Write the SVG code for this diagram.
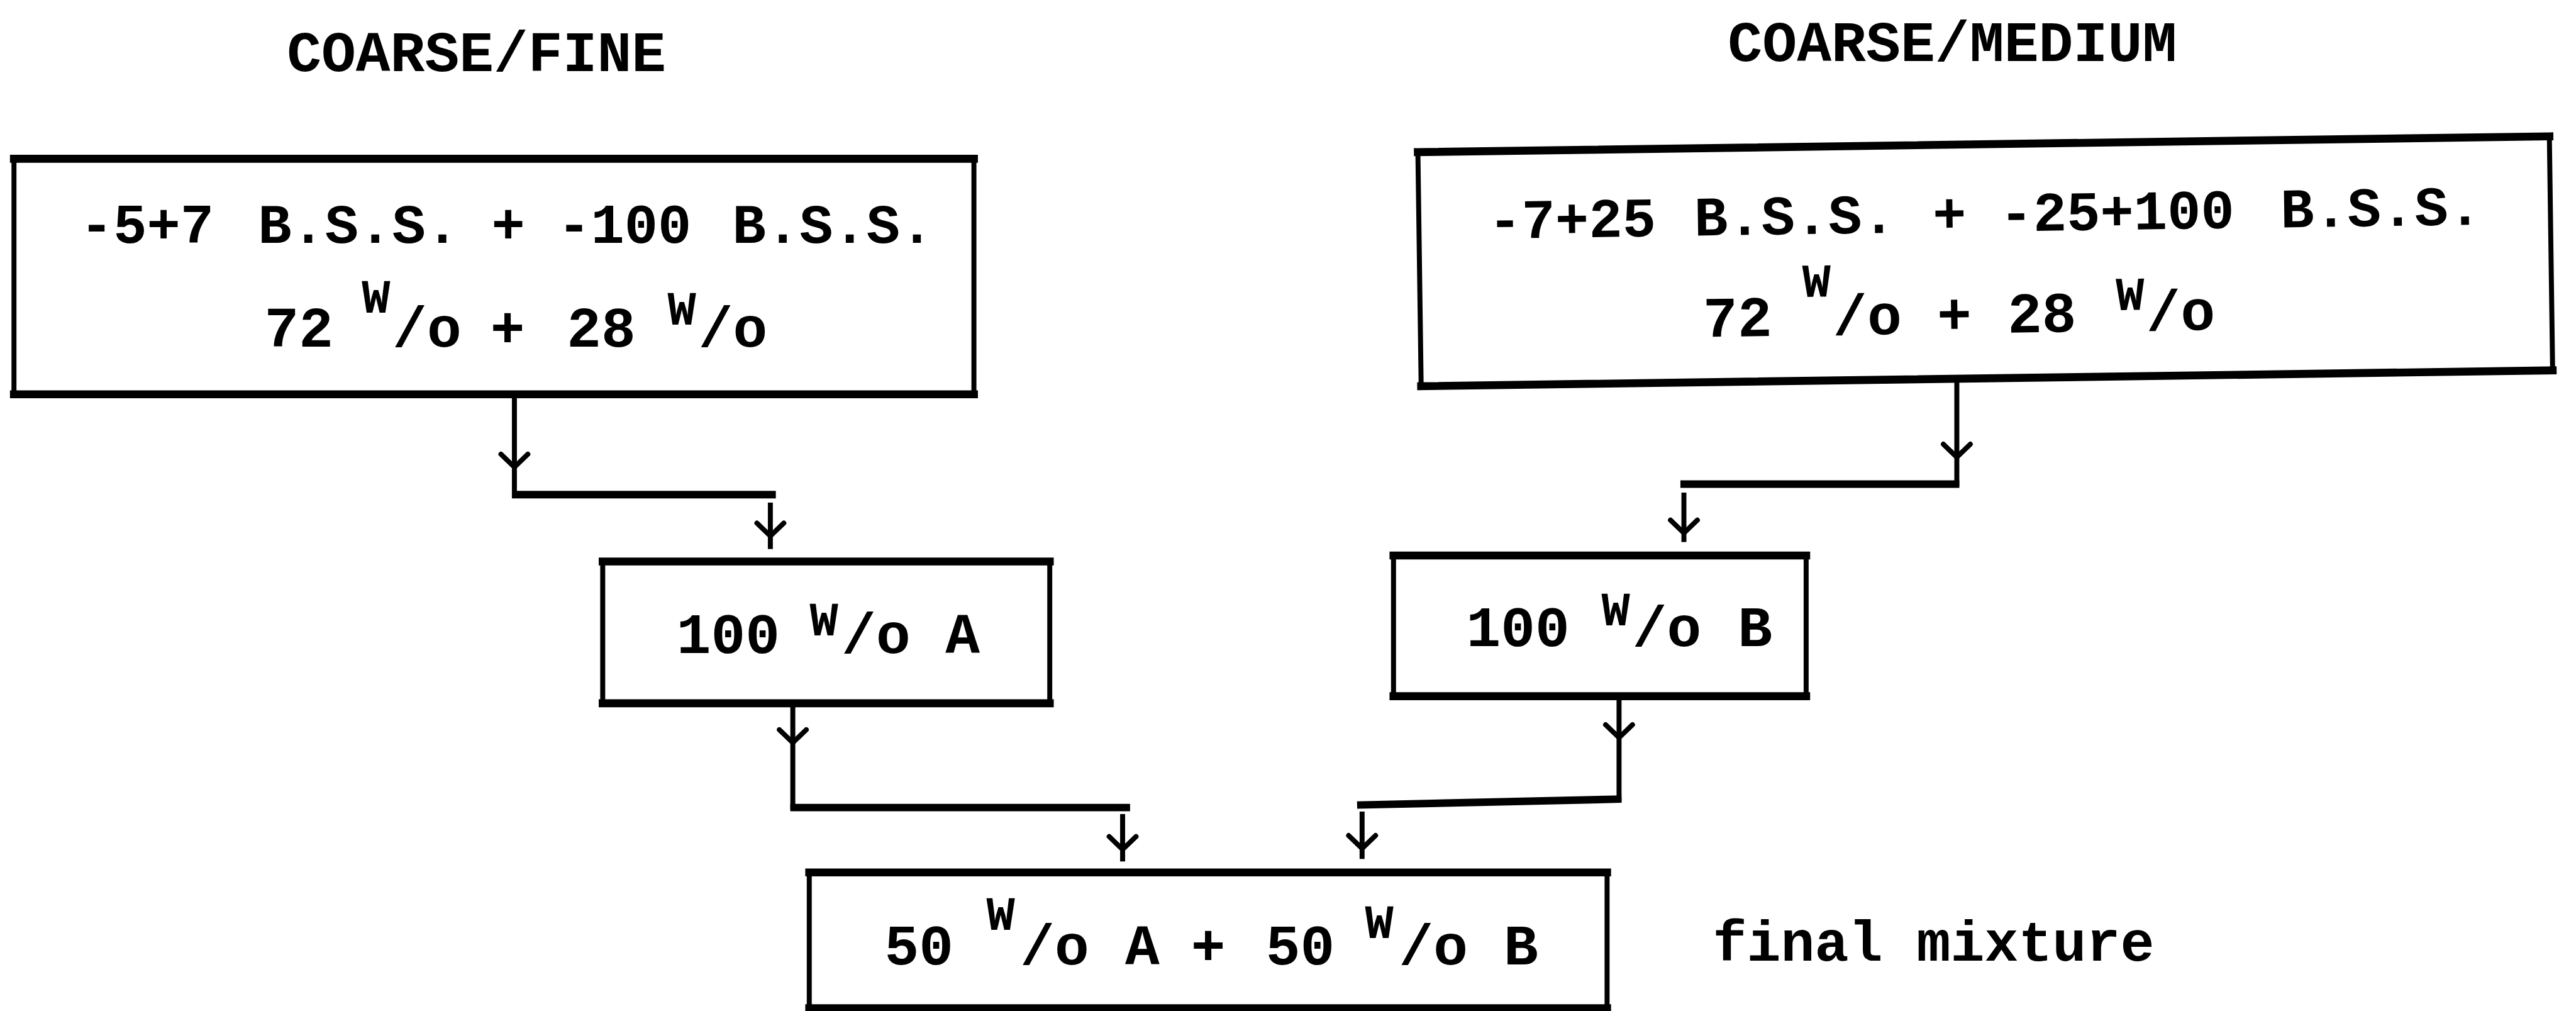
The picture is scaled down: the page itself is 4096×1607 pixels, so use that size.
<svg xmlns="http://www.w3.org/2000/svg" xmlns:xlink="http://www.w3.org/1999/xlink" width="4096" height="1607" viewBox="0 0 4096 1607">
  <style>
    .t { font-family: "Liberation Mono", "DejaVu Sans Mono", monospace; font-weight: bold; fill: #000; }
    .body { font-size: 112px; }
    .big { font-size: 115px; }
    .sup { font-size: 95px; }
    .box { fill: #fff; stroke: #000; stroke-width: 10; }
    .rule { fill: none; stroke: #000; stroke-width: 16; stroke-linecap: square; }
    .lv { fill: none; stroke: #000; stroke-width: 10; stroke-linecap: square; }
    .lh { fill: none; stroke: #000; stroke-width: 15; stroke-linecap: butt; }
    .head { fill: none; stroke: #000; stroke-width: 10; stroke-linecap: round; stroke-linejoin: miter; }
  </style>
  <defs>
    <!-- open V arrowhead, apex at the origin, pointing down -->
    <path id="vhead" class="head" d="M-27,-26 L0,0 L27,-26"/>
  </defs>
  <rect width="4096" height="1607" fill="#fff"/>
  <!-- drawing laid out on a 5163 x 2025 grid -->
  <g transform="scale(0.793337)">
    <g id="title-coarse-fine">
      <text class="t big" x="575" y="142" textLength="760" lengthAdjust="spacingAndGlyphs">COARSE/FINE</text>
    </g>
    <g id="title-coarse-medium">
      <text class="t big" x="3463" y="122" textLength="900" lengthAdjust="spacingAndGlyphs">COARSE/MEDIUM</text>
    </g>

    <g id="node-coarse-fine">
      <rect class="box" x="28" y="318" width="1924" height="472"/>
      <path class="rule" d="M28,318 H1952 M28,790 H1952"/>
      <text class="t body" y="487"><tspan x="160">-5+7</tspan><tspan x="517">B.S.S.</tspan><tspan x="985">+</tspan><tspan x="1117">-100</tspan><tspan x="1468">B.S.S.</tspan></text>
      <text class="t big" y="694"><tspan x="530">72</tspan><tspan class="sup" x="725" y="627">W</tspan><tspan x="787" y="694">/o</tspan><tspan x="983">+</tspan><tspan x="1136">28</tspan><tspan class="sup" x="1338" y="650">W</tspan><tspan x="1400" y="694">/o</tspan></text>
    </g>

    <g id="node-coarse-medium" transform="rotate(-0.8 3979 523)">
      <rect class="box" x="2845" y="289" width="2268" height="469"/>
      <path class="rule" d="M2845,289 H5113 M2845,758 H5113"/>
      <text class="t body" y="464"><tspan x="2984">-7+25</tspan><tspan x="3397">B.S.S.</tspan><tspan x="3875">+</tspan><tspan x="4009">-25+100</tspan><tspan x="4572">B.S.S.</tspan></text>
      <text class="t big" y="667"><tspan x="3412">72</tspan><tspan class="sup" x="3612" y="590">W</tspan><tspan x="3672" y="667">/o</tspan><tspan x="3881">+</tspan><tspan x="4022">28</tspan><tspan class="sup" x="4240" y="625">W</tspan><tspan x="4300" y="667">/o</tspan></text>
    </g>

    <g id="node-a">
      <rect class="box" x="1208" y="1125" width="896" height="284"/>
      <path class="rule" d="M1208,1125 H2104 M1208,1409 H2104"/>
      <text class="t big" y="1309"><tspan x="1356">100</tspan><tspan class="sup" x="1623" y="1273">W</tspan><tspan x="1687" y="1309">/o</tspan><tspan x="1895">A</tspan></text>
    </g>

    <g id="node-b">
      <rect class="box" x="2793" y="1113" width="827" height="282"/>
      <path class="rule" d="M2793,1113 H3620 M2793,1395 H3620"/>
      <text class="t big" y="1294"><tspan x="2939">100</tspan><tspan class="sup" x="3210" y="1253">W</tspan><tspan x="3272" y="1294">/o</tspan><tspan x="3483">B</tspan></text>
    </g>

    <g id="node-final">
      <rect class="box" x="1622" y="1748" width="1599" height="272"/>
      <path class="rule" d="M1622,1748 H3221 M1622,2020 H3221"/>
      <text class="t big" y="1932"><tspan x="1773">50</tspan><tspan class="sup" x="1977" y="1863">W</tspan><tspan x="2045" y="1932">/o</tspan><tspan x="2255">A</tspan><tspan x="2387">+</tspan><tspan x="2537">50</tspan><tspan class="sup" x="2736" y="1880">W</tspan><tspan x="2804" y="1932">/o</tspan><tspan x="3014">B</tspan></text>
    </g>

    <g id="label-final">
      <text class="t big" x="3433" y="1925" textLength="885" lengthAdjust="spacingAndGlyphs">final mixture</text>
    </g>

    <g id="connectors">
      <!-- coarse/fine to A -->
      <path class="lv" d="M1031,792 V991"/>
      <path class="lh" d="M1026,991 H1555"/>
      <use xlink:href="#vhead" x="1031" y="936"/>
      <path class="lv" d="M1544,1012 V1095"/>
      <use xlink:href="#vhead" x="1544" y="1074"/>
      <!-- coarse/medium to B -->
      <path class="lv" d="M3922,760 V970"/>
      <path class="lh" d="M3927,970 H3368"/>
      <use xlink:href="#vhead" x="3922" y="916"/>
      <path class="lv" d="M3375,992 V1081"/>
      <use xlink:href="#vhead" x="3375" y="1068"/>
      <!-- A to final mixture -->
      <path class="lv" d="M1589,1409 V1618"/>
      <path class="lh" d="M1584,1618 H2265"/>
      <use xlink:href="#vhead" x="1589" y="1488"/>
      <path class="lv" d="M2250,1636 V1721"/>
      <use xlink:href="#vhead" x="2250" y="1702"/>
      <!-- B to final mixture -->
      <path class="lv" d="M3245,1395 V1601"/>
      <path class="lh" d="M3250,1601 L2720,1613"/>
      <use xlink:href="#vhead" x="3245" y="1478"/>
      <path class="lv" d="M2730,1631 V1716"/>
      <use xlink:href="#vhead" x="2730" y="1700"/>
    </g>
  </g>
</svg>
